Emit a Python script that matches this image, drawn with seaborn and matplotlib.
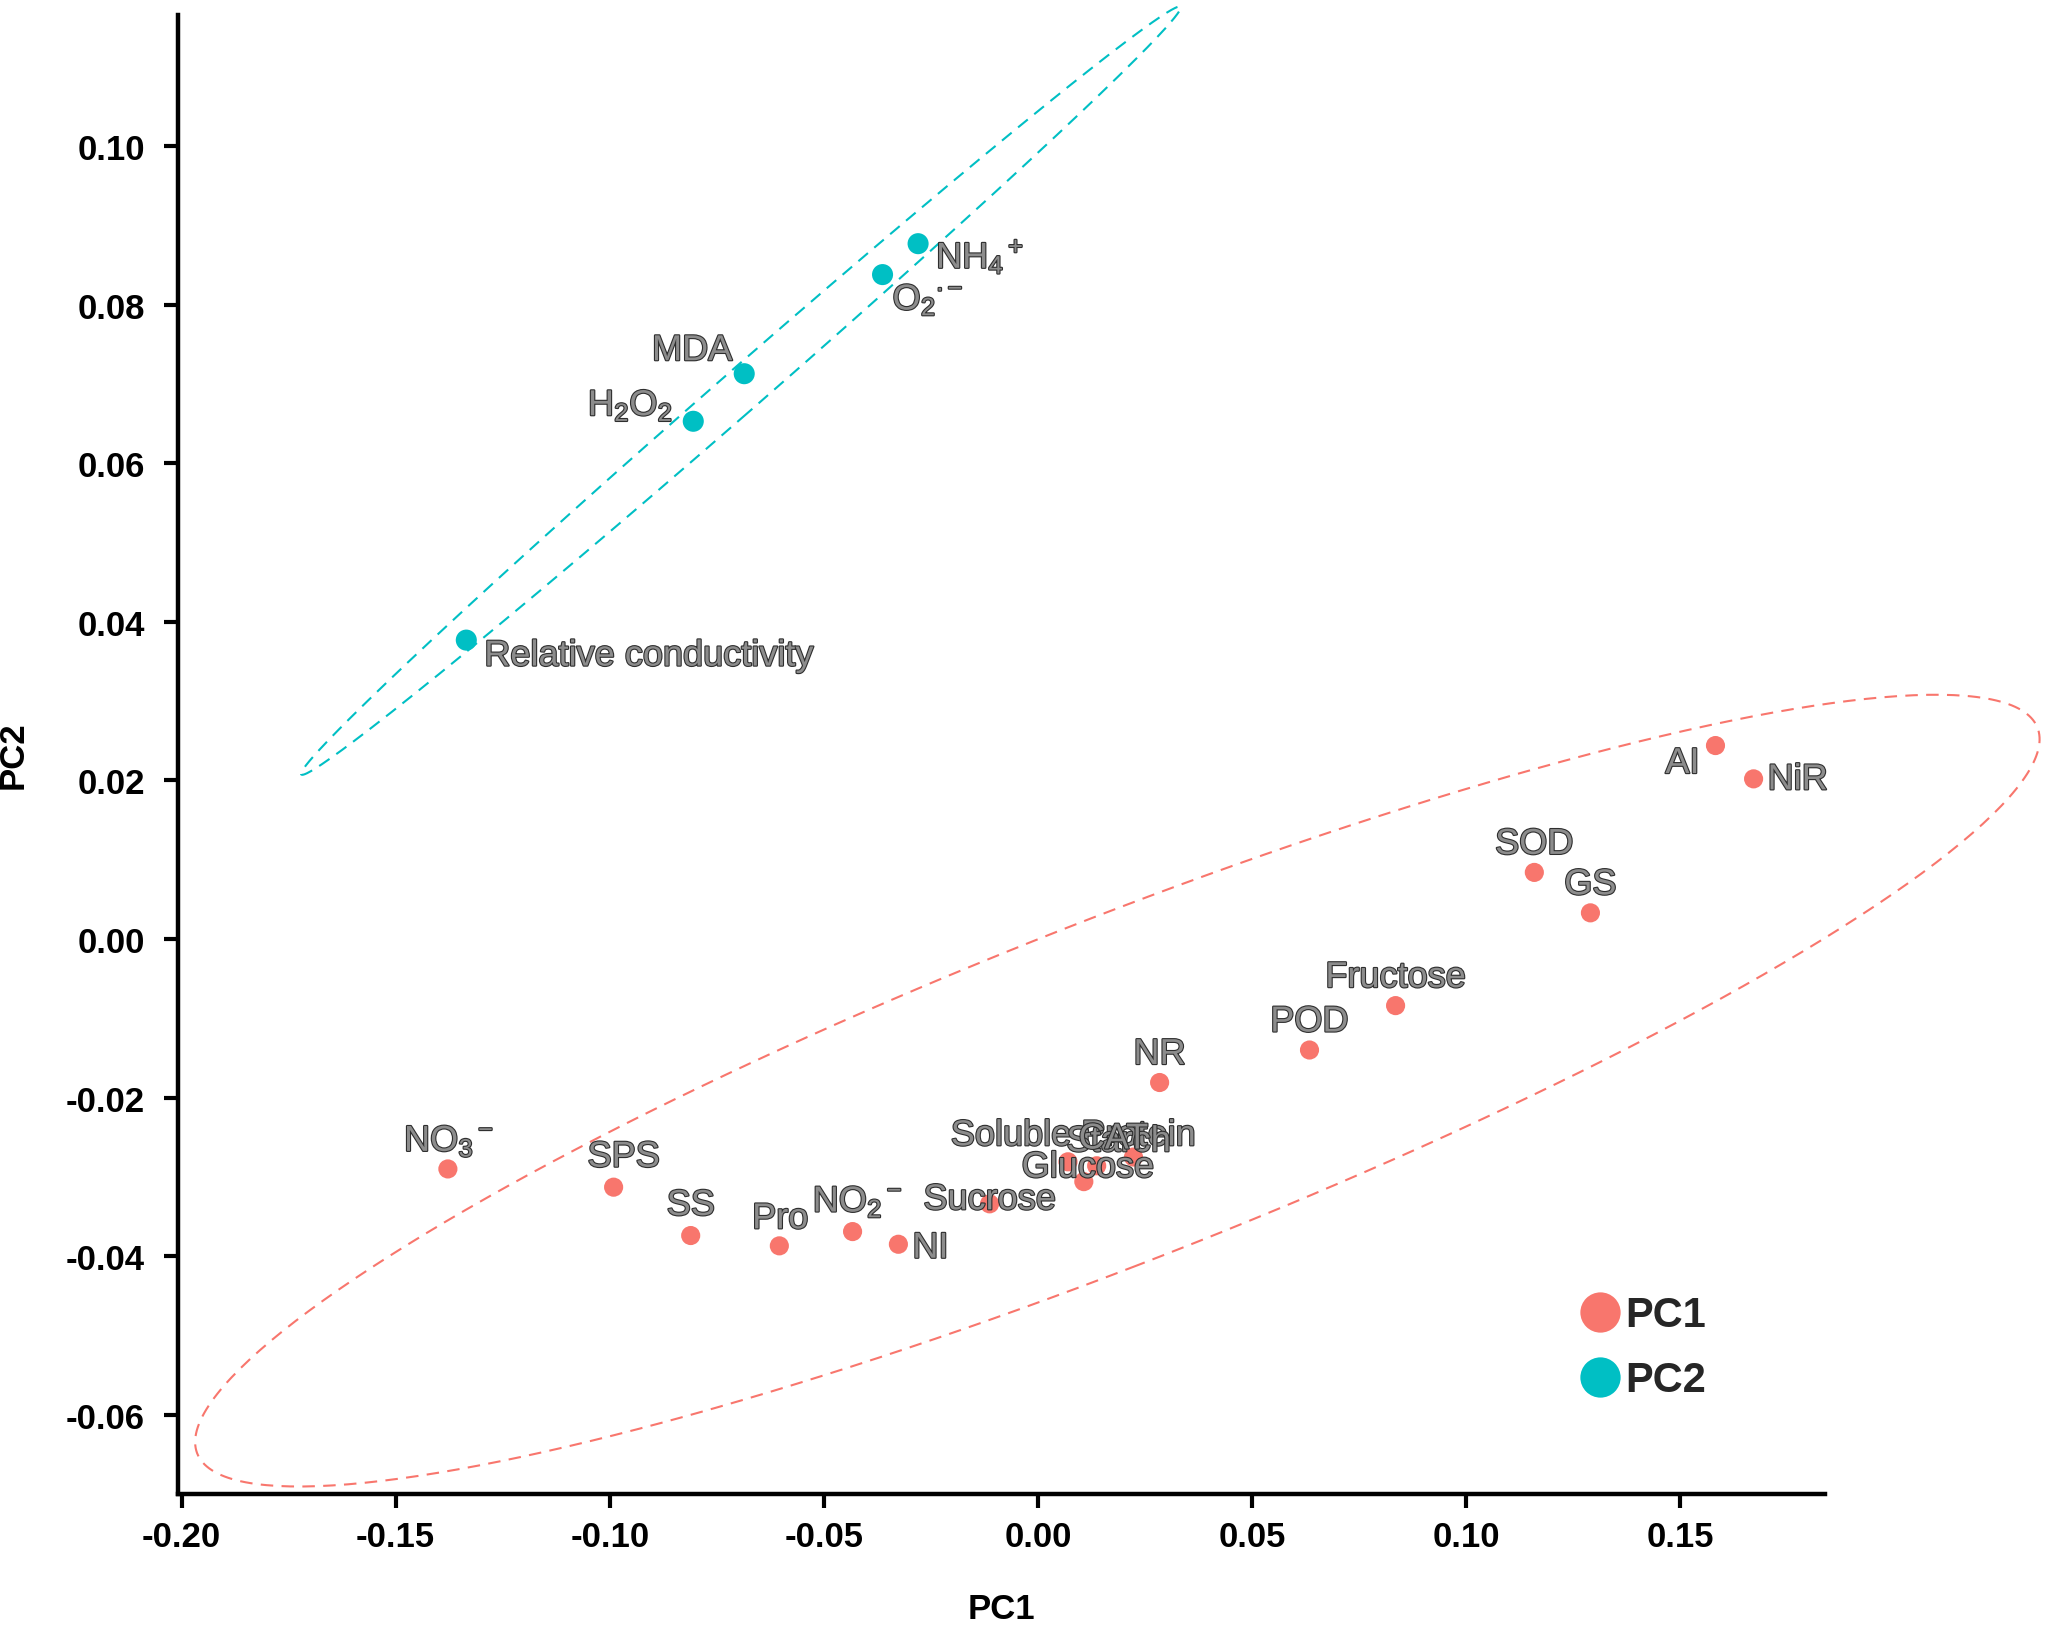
import numpy as np
import pandas as pd
import seaborn as sns
import matplotlib
matplotlib.use("Agg")
from matplotlib import pyplot as plt
from matplotlib import patheffects as pe
from matplotlib.lines import Line2D

# loadings
pc1_names = ["NO$_3{}^-$", "SPS", "SS", "Pro", "NO$_2{}^-$", "NI", "Sucrose",
             "Soluble Protein", "Glucose", "Starch", "CAT", "NR", "POD",
             "Fructose", "SOD", "GS", "AI", "NiR"]
pc1_x = [-0.1378, -0.0991, -0.0811, -0.0604, -0.0433, -0.0326, -0.0113,
         0.0070, 0.0107, 0.0137, 0.0223, 0.0284, 0.0634,
         0.0835, 0.1159, 0.1290, 0.1582, 0.1671]
pc1_y = [-0.0290, -0.0313, -0.0374, -0.0387, -0.0369, -0.0385, -0.0334,
         -0.0281, -0.0306, -0.0286, -0.0275, -0.0181, -0.0140,
         -0.0084, 0.0084, 0.0033, 0.0244, 0.0202]

pc2_names = ["NH$_4{}^+$", "O$_2{}^{\\bullet-}$", "MDA", "H$_2$O$_2$", "Relative conductivity"]
pc2_x = [-0.0280, -0.0363, -0.0686, -0.0805, -0.1335]
pc2_y = [0.0877, 0.0838, 0.0713, 0.0653, 0.0377]

# label offsets in pixels (x right, y up) and alignment
pc1_offsets = [(1, 28), (10, 30), (0, 30), (1, 27), (5, 30), (14, -4), (0, 4),
               (5, 26), (4, 14), (22, 24), (-20, 18), (0, 28), (0, 28),
               (0, 28), (0, 28), (0, 28), (-33, -18), (14, -1)]
pc1_ha = ["center"] * 5 + ["left"] + ["center"] * 10 + ["center", "left"]
pc2_offsets = [(18, -13), (10, -25), (-52, 23), (-63, 16), (18, -16)]
pc2_ha = ["left", "left", "center", "center", "left"]

palette = {"PC1": "#F8766D", "PC2": "#00BFC4"}

df = pd.DataFrame({
    "x": pc1_x + pc2_x,
    "y": pc1_y + pc2_y,
    "name": pc1_names + pc2_names,
    "group": ["PC1"] * len(pc1_x) + ["PC2"] * len(pc2_x),
})

sns.set_style("ticks")
plt.rcParams["font.family"] = ["Liberation Sans", "DejaVu Sans"]
plt.rcParams["mathtext.fontset"] = "custom"
plt.rcParams["mathtext.rm"] = "Liberation Sans"
plt.rcParams["mathtext.it"] = "Liberation Sans:italic"
plt.rcParams["mathtext.bf"] = "Liberation Sans:bold"
plt.rcParams["axes.unicode_minus"] = False

fig = plt.figure(figsize=(20.47, 16.33), dpi=100)
ax = fig.add_axes([0.087, 0.0845, 0.8046, 0.9055])

# 95% normal confidence ellipses per group
r = np.sqrt(-2 * np.log(0.05))
t = np.linspace(0, 2 * np.pi, 400)
for g, sub in df.groupby("group"):
    pts = sub[["x", "y"]].to_numpy()
    c = pts.mean(axis=0)
    cov = np.cov(pts.T)
    vals, vecs = np.linalg.eigh(cov)
    circ = np.vstack([np.cos(t), np.sin(t)])
    ell = (vecs @ np.diag(np.sqrt(vals)) @ circ) * r + c[:, None]
    ax.plot(ell[0], ell[1], ls=(0, (6, 4)), lw=1.5, color=palette[g], clip_on=False, zorder=1)

sns.scatterplot(data=df[df.group == "PC1"], x="x", y="y", color=palette["PC1"], s=190,
                edgecolor="none", legend=False, ax=ax, zorder=3, clip_on=False)
sns.scatterplot(data=df[df.group == "PC2"], x="x", y="y", color=palette["PC2"], s=230,
                edgecolor="none", legend=False, ax=ax, zorder=3, clip_on=False)

stroke = [pe.withStroke(linewidth=1.6, foreground="#2e2e2e")]
groups = [(pc1_names, pc1_x, pc1_y, pc1_offsets, pc1_ha),
          (pc2_names, pc2_x, pc2_y, pc2_offsets, pc2_ha)]
for names, xs, ys, offs, has in groups:
    for n, x, y, o, h in zip(names, xs, ys, offs, has):
        ax.annotate(n, (x, y), xytext=o, textcoords="offset pixels",
                    ha=h, va="center", fontsize=26, color="#8c8c8c",
                    path_effects=stroke, zorder=4)

ax.set_xlim(-0.2008, 0.1838)
ax.set_ylim(-0.070, 0.1165)
ax.set_xticks(np.arange(-0.20, 0.16, 0.05))
ax.set_yticks(np.arange(-0.06, 0.11, 0.02))
fmt = matplotlib.ticker.FuncFormatter(lambda v, p: "%.2f" % (round(v, 4) + 0.0))
ax.xaxis.set_major_formatter(fmt)
ax.yaxis.set_major_formatter(fmt)
sns.despine(ax=ax)
for s in ["left", "bottom"]:
    ax.spines[s].set_linewidth(3.2)
    ax.spines[s].set_color("black")
ax.tick_params(axis="both", length=10, width=3, labelsize=25, colors="black")
ax.tick_params(axis="x", pad=9)
ax.tick_params(axis="y", pad=14)
for lab in ax.get_xticklabels() + ax.get_yticklabels():
    lab.set_fontweight("bold")
ax.set_xlabel("PC1", fontsize=25, fontweight="bold", labelpad=28, color="black")
ax.set_ylabel("PC2", fontsize=25, fontweight="bold", labelpad=26, color="black")

handles = [Line2D([], [], ls="none", marker="o", markersize=29,
                  markerfacecolor=palette[k], markeredgecolor="none", label=k)
           for k in ["PC1", "PC2"]]
fig.legend(handles=handles, loc="center left", bbox_to_anchor=(0.755, 0.174),
           frameon=False, prop={"size": 30, "weight": "bold"},
           handlelength=0.8, handletextpad=0.22, labelspacing=0.6)

plt.savefig("out.png", dpi=100)
